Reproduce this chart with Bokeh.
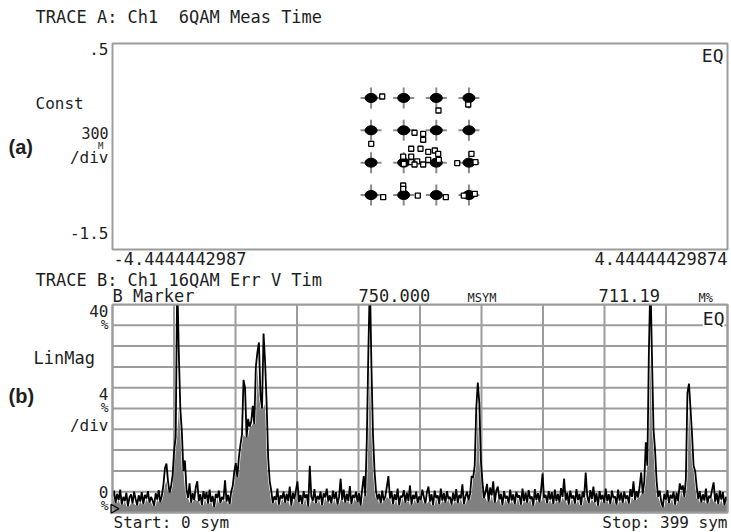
import math
from bokeh.plotting import figure
from bokeh.layouts import column
from bokeh.models import Range1d, Label
from bokeh.embed import file_html
from bokeh.resources import INLINE

# ---------------- data ----------------
# (a) 16QAM constellation
IQ_LEVELS = [-0.7071, -0.2357, 0.2357, 0.7071]
OUT_I = [-0.546, 0.267, 0.697, -0.705, -0.079, 0.046, 0.046, -0.127, 0.007, 0.119,
         0.214, 0.263, -0.243, -0.127, -0.127, -0.040, 0.046, 0.119, 0.272, -0.079,
         -0.234, 0.538, 0.744, 0.802, -0.243, -0.243, -0.532, -0.032, 0.373, 0.633, 0.792]
OUT_Q = [0.728, 0.524, 0.612, 0.039, 0.200, 0.185, 0.098, -0.033, -0.033, -0.077,
         -0.058, -0.106, -0.146, -0.146, -0.229, -0.218, -0.262, -0.194, -0.194, -0.262,
         -0.252, -0.243, -0.106, -0.229, -0.568, -0.616, -0.738, -0.714, -0.738, -0.714, -0.689]
A_X_RANGE = [-4.4444442987, 4.44444429874]
A_Y_RANGE = [-1.5, 1.5]
A_X_TICK_LABELS = ["-4.4444442987", "4.44444429874"]
A_Y_TICK_LABELS = [".5", "-1.5"]
A_SCALE_LABELS = ["Const", "300", "M", "/div"]
A_TITLE = "TRACE A: Ch1\u00a0\u00a06QAM Meas Time"

# (b) error vector magnitude vs symbol (%)
B_X_RANGE = [0, 399]
B_Y_RANGE = [0, 40]
B_ERR = [
    3.1, 4.2, 1.8, 3.6, 2.4, 4.4, 1.5, 3.0, 2.2, 3.8, 1.2, 2.9, 3.5, 1.7, 4.0, 2.6, 1.4, 3.3, 2.1, 3.9,
    1.6, 3.4, 2.7, 4.1, 1.9, 3.0, 2.3, 1.3, 3.7, 2.5, 4.3, 2.0, 3.2, 5.2, 8.5, 9.4, 6.1, 3.8, 5.0, 7.2,
    12.0, 14.5, 45.0, 31.0, 20.0, 15.5, 8.0, 10.0, 4.5, 2.8, 5.6, 1.9, 3.7, 2.4, 4.8, 6.0, 2.2, 3.5, 1.4, 4.1,
    2.6, 3.9, 1.7, 4.4, 2.0, 3.2, 1.1, 3.6, 2.8, 4.2, 1.8, 3.0, 2.5, 6.2, 2.1, 3.4, 1.6, 4.0, 5.1, 7.8,
    9.5, 6.8, 10.6, 13.0, 15.0, 25.5, 24.0, 14.5, 18.0, 16.5, 17.5, 20.5, 17.0, 28.0, 30.8, 32.7, 22.5, 20.0, 34.4, 29.0,
    21.0, 10.5, 6.0, 4.2, 1.8, 3.1, 2.4, 4.6, 1.5, 3.3, 2.7, 4.0, 1.9, 3.6, 2.2, 5.0, 1.3, 3.8, 2.6, 4.3,
    6.0, 2.0, 3.4, 1.6, 4.1, 2.8, 3.5, 1.2, 9.0, 3.0, 2.3, 4.5, 1.8, 3.2, 2.5, 4.0, 1.4, 3.7, 2.9, 4.6,
    2.1, 3.3, 1.7, 4.2, 2.6, 3.9, 1.5, 3.0, 6.5, 2.4, 4.4, 1.9, 3.6, 2.2, 5.1, 1.6, 3.4, 2.8, 4.0, 2.0,
    3.7, 1.3, 4.5, 7.0, 3.2, 14.0, 31.0, 45.0, 28.0, 15.0, 8.0, 4.0, 2.5, 3.6, 1.8, 4.2, 2.3, 3.1, 5.0, 7.0,
    2.7, 4.1, 1.6, 3.5, 2.4, 4.6, 1.4, 3.2, 2.9, 4.3, 1.9, 3.8, 2.2, 5.2, 1.5, 3.4, 2.6, 4.0, 1.8, 3.1,
    2.4, 4.4, 3.0, 1.7, 3.9, 5.0, 2.1, 3.5, 1.4, 4.2, 2.8, 3.3, 1.6, 4.6, 2.3, 3.7, 1.9, 4.1, 2.6, 3.0,
    1.5, 3.8, 2.2, 4.5, 1.8, 3.4, 2.7, 5.4, 1.6, 3.1, 4.0, 2.4, 3.6, 7.0, 6.7, 9.0, 20.0, 25.0, 21.0, 10.0,
    6.0, 2.8, 3.9, 5.5, 2.1, 4.8, 3.3, 6.0, 1.9, 4.2, 5.0, 2.5, 3.6, 1.4, 4.1, 2.7, 3.2, 1.7, 4.4, 2.3,
    3.5, 1.6, 4.0, 2.9, 3.3, 1.5, 4.6, 2.2, 3.8, 1.9, 4.3, 2.6, 3.1, 1.3, 4.5, 2.4, 3.7, 2.0, 4.2, 7.5,
    2.8, 3.4, 1.8, 4.1, 2.5, 3.9, 1.6, 4.4, 2.2, 3.6, 1.9, 4.7, 3.0, 6.5, 2.3, 3.8, 1.5, 4.2, 2.7, 3.3,
    1.7, 4.5, 2.4, 3.6, 1.4, 4.0, 2.9, 7.7, 3.2, 1.8, 4.3, 2.6, 5.0, 2.0, 3.7, 1.3, 4.1, 2.5, 3.4, 1.9,
    4.6, 2.2, 3.5, 1.6, 4.2, 2.8, 3.1, 1.5, 4.4, 2.3, 3.8, 1.8, 4.0, 2.6, 3.3, 1.7, 4.5, 3.0, 6.0, 2.4,
    4.1, 2.9, 5.0, 7.7, 3.6, 6.0, 13.5, 9.0, 31.0, 45.0, 30.0, 16.0, 12.0, 6.0, 3.0, 4.2, 2.1, 1.0, 3.6, 2.5,
    4.3, 1.8, 3.4, 2.7, 4.0, 1.5, 3.8, 2.2, 5.6, 4.4, 5.2, 3.0, 6.5, 23.0, 24.8, 20.0, 15.0, 9.0, 8.0, 5.0,
    2.6, 4.1, 1.9, 3.5, 2.3, 4.6, 1.7, 3.2, 2.8, 4.4, 5.8, 2.1, 3.7, 1.6, 4.2, 2.5, 3.9, 1.4, 3.0, 2.2,
]
B_SYM = list(range(len(B_ERR)))
B_X_DIVS = 10
B_Y_TICKS = [0, 4, 8, 12, 16, 20, 24, 28, 32, 36, 40]
B_Y_TICK_LABELS = ["40", "%", "4", "%", "0", "%"]
B_SCALE_LABELS = ["LinMag", "/div"]
B_TITLE = "TRACE B: Ch1 16QAM Err V Tim"
B_MARKER_LINE = ["B Marker", "750.000", "MSYM", "711.19", "M%"]
B_MARKER_POS = [0.75, 0.71119]
B_X_LABELS = ["Start: 0 sym", "Stop: 399 sym"]

# ---------------- styling / layout ----------------
MONO = "DejaVu Sans Mono"
TXT = "#1e1e1e"
FRAME = "#9c9c9c"
GRAY_FILL = "#808080"
W = 730
HA, HB = 270, 261

# inner plot boxes, in page pixels
FA = dict(L=112, R=727, T=43, B=249, top=0, x0=A_X_RANGE[0], x1=A_X_RANGE[1], y0=A_Y_RANGE[0], y1=A_Y_RANGE[1])
FB = dict(L=112, R=727, T=304, B=512, top=HA, x0=B_X_RANGE[0], x1=B_X_RANGE[1], y0=B_Y_RANGE[0], y1=B_Y_RANGE[1])


def mapper(F):
    def f(px, py):
        x = F["x0"] + (px - F["L"]) / (F["R"] - F["L"]) * (F["x1"] - F["x0"])
        y = F["y1"] - (py - F["T"]) / (F["B"] - F["T"]) * (F["y1"] - F["y0"])
        return x, y
    return f


def make_fig(F, height):
    m = mapper(F)
    xs, ys_top = m(0, F["top"])
    xe, ys_bot = m(W, F["top"] + height)
    p = figure(width=W, height=height, x_range=Range1d(xs, xe), y_range=Range1d(ys_bot, ys_top),
               x_axis_location=None, y_axis_location=None, title=None,
               toolbar_location=None, output_backend="svg", min_border=0)
    p.grid.visible = False
    p.outline_line_color = None
    p.background_fill_color = "white"
    p.border_fill_color = "white"
    return p, m


def txt(p, fmap, px, py, s, size, align="left", font=MONO, style="normal", bg=None):
    x, y = fmap(px, py)
    p.add_layout(Label(x=x, y=y, text=s, text_font=font, text_font_size=f"{size}px",
                       text_align=align, text_baseline="middle", text_color=TXT,
                       text_font_style=style, background_fill_color=bg))


# ---------------- panel (a) ----------------
pA, fa = make_fig(FA, HA)
pA.quad(left=[A_X_RANGE[0]], right=[A_X_RANGE[1]], bottom=[A_Y_RANGE[0]], top=[A_Y_RANGE[1]],
        fill_color=None, line_color=FRAME, line_width=2)

ideal_i = [i for q in IQ_LEVELS for i in IQ_LEVELS]
ideal_q = [q for q in IQ_LEVELS for i in IQ_LEVELS]
pA.scatter(ideal_i, ideal_q, marker="cross", size=21, line_color="#8a8a8a", line_width=2)
pA.ellipse(ideal_i, ideal_q, width=12, height=9, width_units="screen", height_units="screen",
           fill_color="black", line_color="black")
pA.scatter(OUT_I, OUT_Q, marker="square", size=5, fill_color="white", line_color="black", line_width=1.3)

txt(pA, fa, 35, 16, A_TITLE, 17)
txt(pA, fa, 108, 48, A_Y_TICK_LABELS[0], 16, "right")
txt(pA, fa, 108, 232, A_Y_TICK_LABELS[1], 16, "right")
txt(pA, fa, 35, 103, A_SCALE_LABELS[0], 16)
txt(pA, fa, 108, 132, A_SCALE_LABELS[1], 15, "right")
txt(pA, fa, 103, 145, A_SCALE_LABELS[2], 9, "right")
txt(pA, fa, 108, 157, A_SCALE_LABELS[3], 16, "right")
txt(pA, fa, 8, 146, "(a)", 20, font="Liberation Sans", style="bold")
txt(pA, fa, 723, 55, "EQ", 18, "right")
txt(pA, fa, FA["L"] + 1, 258, A_X_TICK_LABELS[0], 17)
txt(pA, fa, FA["R"], 258, A_X_TICK_LABELS[1], 17, "right")

# ---------------- panel (b) ----------------
pB, fb = make_fig(FB, HB)
xt = [B_X_RANGE[1] * k / B_X_DIVS for k in range(B_X_DIVS + 1)]
pB.segment(x0=xt, y0=[B_Y_RANGE[0]] * len(xt), x1=xt, y1=[B_Y_RANGE[1]] * len(xt),
           line_color=FRAME, line_width=2)
pB.segment(x0=[B_X_RANGE[0]] * len(B_Y_TICKS), y0=B_Y_TICKS, x1=[B_X_RANGE[1]] * len(B_Y_TICKS),
           y1=B_Y_TICKS, line_color=FRAME, line_width=2)

# the grey fill follows the lower envelope of neighbouring samples, the black trace the samples
n = len(B_ERR)
B_FLOOR = [min(B_ERR[max(i - 1, 0):min(i + 2, n)]) for i in range(n)]
pB.varea(x=B_SYM, y1=0, y2=B_FLOOR, fill_color=GRAY_FILL)
pB.line(B_SYM, B_ERR, line_color="black", line_width=1.8)
# mask anything above full scale (the display clips at the top of the graticule)
pB.quad(left=[pB.x_range.start], right=[pB.x_range.end], bottom=[B_Y_RANGE[1]], top=[pB.y_range.end],
        fill_color="white", line_color=None)
pB.quad(left=[B_X_RANGE[0]], right=[B_X_RANGE[1]], bottom=[B_Y_RANGE[0]], top=[B_Y_RANGE[1]],
        fill_color=None, line_color=FRAME, line_width=2)
pB.scatter([B_MARKER_POS[0]], [B_MARKER_POS[1]], marker="triangle", angle=-math.pi / 2,
           size=9, fill_color=None, line_color="black", line_width=1.3)

txt(pB, fb, 35, 279, B_TITLE, 17)
txt(pB, fb, 112, 295, B_MARKER_LINE[0], 17)
txt(pB, fb, 358, 295, B_MARKER_LINE[1], 17)
txt(pB, fb, 467, 297, B_MARKER_LINE[2], 12)
txt(pB, fb, 598, 295, B_MARKER_LINE[3], 17)
txt(pB, fb, 698, 297, B_MARKER_LINE[4], 12)
txt(pB, fb, 108, 310, B_Y_TICK_LABELS[0], 16, "right")
txt(pB, fb, 108, 324, B_Y_TICK_LABELS[1], 13, "right")
txt(pB, fb, 33, 357, B_SCALE_LABELS[0], 17)
txt(pB, fb, 108, 393, B_Y_TICK_LABELS[2], 16, "right")
txt(pB, fb, 108, 407, B_Y_TICK_LABELS[3], 13, "right")
txt(pB, fb, 108, 425, B_SCALE_LABELS[1], 16, "right")
txt(pB, fb, 108, 491, B_Y_TICK_LABELS[4], 16, "right")
txt(pB, fb, 108, 505, B_Y_TICK_LABELS[5], 13, "right")
txt(pB, fb, 8, 395, "(b)", 20, font="Liberation Sans", style="bold")
txt(pB, fb, 724, 318, "EQ", 18, "right", bg="white")
txt(pB, fb, FB["L"] + 1, 522, B_X_LABELS[0], 16)
txt(pB, fb, FB["R"], 522, B_X_LABELS[1], 16, "right")

layout = column(pA, pB, spacing=0)
open("out.html", "w").write(file_html(layout, INLINE))
